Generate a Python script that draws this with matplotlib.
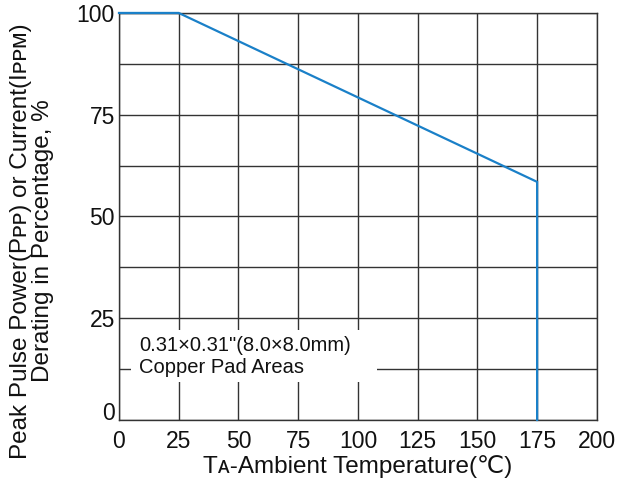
import matplotlib
matplotlib.use("Agg")
import matplotlib.pyplot as plt
from matplotlib.patches import Rectangle

plt.rcParams["font.family"] = ["Liberation Sans", "DejaVu Sans"]

# derating curve
temperature = [0, 25, 175, 175]
derating = [100, 100, 58.5, 0]

x_ticks = [0, 25, 50, 75, 100, 125, 150, 175, 200]
y_ticks = [0, 25, 50, 75, 100]
y_grid = [12.5, 37.5, 62.5, 87.5]

LINE_COLOR = "#1a80c8"
GRID_COLOR = "#333333"
TEXT_COLOR = "#111111"

fig = plt.figure(figsize=(6.21, 4.8), dpi=100)
ax = fig.add_axes([0.1916, 0.125, 0.7695, 0.848])

ax.set_xlim(0, 200)
ax.set_ylim(0, 100)
ax.set_xticks(x_ticks)
ax.set_yticks(y_ticks)
ax.set_yticks(y_grid, minor=True)
ax.tick_params(which="both", length=0, labelsize=16.5, colors=TEXT_COLOR)
ax.tick_params(axis="x", pad=7)
ax.tick_params(axis="y", pad=3)
ax.grid(True, which="both", color=GRID_COLOR, linewidth=1.0)
ax.set_axisbelow(True)
for spine in ax.spines.values():
    spine.set_color(GRID_COLOR)
    spine.set_linewidth(1.0)

# the "0" on the y axis sits on the bottom line
ax.get_yticklabels()[0].set_va("baseline")

ax.plot(temperature, derating, color=LINE_COLOR, linewidth=1.6, zorder=5,
        solid_joinstyle="miter", clip_on=False)

# white label box over the grid
ax.add_patch(Rectangle((5, 9.3), 103, 12.8, facecolor="white",
                       edgecolor="none", zorder=2))
ax.text(8.5, 18.3, "0.31\u00d70.31\"(8.0\u00d78.0mm)", fontsize=14.5,
        color=TEXT_COLOR, va="center", ha="left", zorder=4)
ax.text(8.5, 13.0, "Copper Pad Areas", fontsize=14.5,
        color=TEXT_COLOR, va="center", ha="left", zorder=4)

ax.set_xlabel("T\u1d00-Ambient Temperature(\u2103)", fontsize=17.5,
              color=TEXT_COLOR, labelpad=2)
ax.set_ylabel("Peak Pulse Power(P\u1d18\u1d18) or Current(I\u1d18\u1d18\u1d0d)\n"
              "Derating in Percentage, %", fontsize=17.5, color=TEXT_COLOR,
              linespacing=0.95)
ax.yaxis.set_label_coords(-0.137, 0.44)

fig.savefig("out.png", dpi=100)
